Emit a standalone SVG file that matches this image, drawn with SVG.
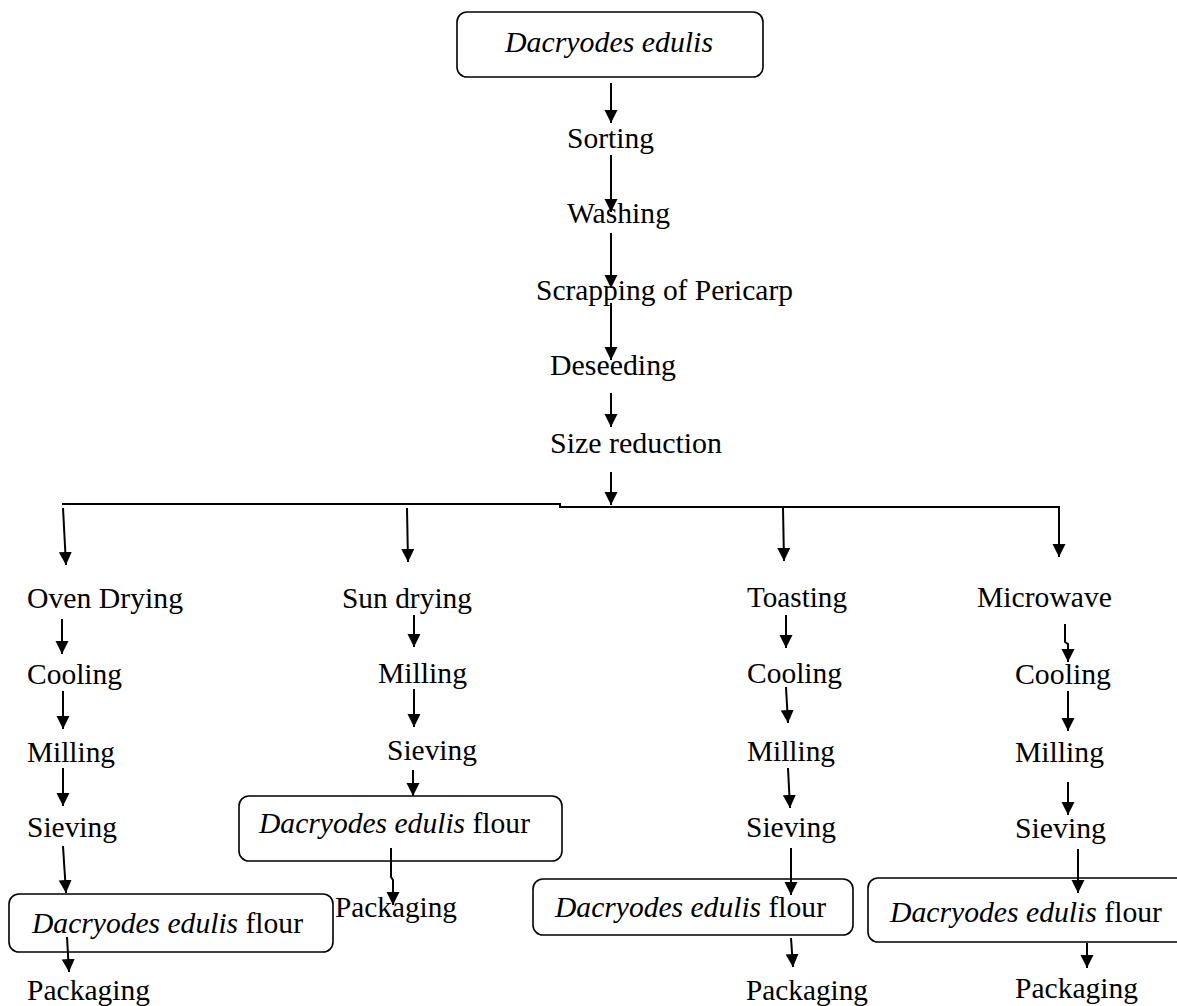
<svg xmlns="http://www.w3.org/2000/svg" width="1177" height="1006" viewBox="0 0 1177 1006">
<style>
.t{font-family:"Liberation Serif","Times New Roman",serif;font-size:29.5px;fill:#000}
.i{font-style:italic}
.box{fill:#fff;stroke:#000;stroke-width:1.6}
.c{fill:none;stroke:#000;stroke-width:2}
</style>
<defs>
<marker id="ah" markerUnits="userSpaceOnUse" markerWidth="14" markerHeight="14" refX="13" refY="6.5" orient="auto">
<path d="M0,0 L13,6.5 L0,13 z" fill="#000"/>
</marker>
</defs>
<rect width="1177" height="1006" fill="#fff"/>
<g id="n-top"><rect class="box" x="457" y="12" width="306" height="65" rx="10"/><text class="t i" x="505" y="52" textLength="208" lengthAdjust="spacingAndGlyphs">Dacryodes edulis</text></g>
<g id="n-sorting"><text class="t" x="567" y="148" textLength="87" lengthAdjust="spacingAndGlyphs">Sorting</text></g>
<g id="n-washing"><text class="t" x="567" y="223" textLength="103" lengthAdjust="spacingAndGlyphs">Washing</text></g>
<g id="n-scrapping"><text class="t" x="536" y="300" textLength="257" lengthAdjust="spacingAndGlyphs">Scrapping of Pericarp</text></g>
<g id="n-deseeding"><text class="t" x="550" y="375" textLength="126" lengthAdjust="spacingAndGlyphs">Deseeding</text></g>
<g id="n-size"><text class="t" x="550" y="453" textLength="172" lengthAdjust="spacingAndGlyphs">Size reduction</text></g>

<g id="n-oven"><text class="t" x="27" y="608" textLength="156" lengthAdjust="spacingAndGlyphs">Oven Drying</text></g>
<g id="n-cool1"><text class="t" x="27" y="684" textLength="95" lengthAdjust="spacingAndGlyphs">Cooling</text></g>
<g id="n-mill1"><text class="t" x="27" y="762" textLength="88" lengthAdjust="spacingAndGlyphs">Milling</text></g>
<g id="n-sieve1"><text class="t" x="27" y="837" textLength="90" lengthAdjust="spacingAndGlyphs">Sieving</text></g>
<g id="n-flour1"><rect class="box" x="9" y="894" width="324" height="58" rx="10"/><text class="t" x="32" y="933" textLength="271" lengthAdjust="spacingAndGlyphs"><tspan class="i">Dacryodes edulis</tspan> flour</text></g>
<g id="n-pack1"><text class="t" x="27" y="1000" textLength="123" lengthAdjust="spacingAndGlyphs">Packaging</text></g>

<g id="n-sun"><text class="t" x="342" y="608" textLength="130" lengthAdjust="spacingAndGlyphs">Sun drying</text></g>
<g id="n-mill2"><text class="t" x="378" y="683" textLength="89" lengthAdjust="spacingAndGlyphs">Milling</text></g>
<g id="n-sieve2"><text class="t" x="387" y="760" textLength="90" lengthAdjust="spacingAndGlyphs">Sieving</text></g>
<g id="n-flour2"><rect class="box" x="239" y="796" width="323" height="65" rx="10"/><text class="t" x="259" y="833" textLength="271" lengthAdjust="spacingAndGlyphs"><tspan class="i">Dacryodes edulis</tspan> flour</text></g>
<g id="n-pack2"><text class="t" x="335" y="917" textLength="122" lengthAdjust="spacingAndGlyphs">Packaging</text></g>

<g id="n-toast"><text class="t" x="747" y="607" textLength="100" lengthAdjust="spacingAndGlyphs">Toasting</text></g>
<g id="n-cool3"><text class="t" x="747" y="683" textLength="95" lengthAdjust="spacingAndGlyphs">Cooling</text></g>
<g id="n-mill3"><text class="t" x="747" y="761" textLength="88" lengthAdjust="spacingAndGlyphs">Milling</text></g>
<g id="n-sieve3"><text class="t" x="746" y="837" textLength="90" lengthAdjust="spacingAndGlyphs">Sieving</text></g>
<g id="n-flour3"><rect class="box" x="533" y="879" width="320" height="56" rx="10"/><text class="t" x="555" y="917" textLength="271" lengthAdjust="spacingAndGlyphs"><tspan class="i">Dacryodes edulis</tspan> flour</text></g>
<g id="n-pack3"><text class="t" x="746" y="1000" textLength="122" lengthAdjust="spacingAndGlyphs">Packaging</text></g>

<g id="n-micro"><text class="t" x="977" y="607" textLength="135" lengthAdjust="spacingAndGlyphs">Microwave</text></g>
<g id="n-cool4"><text class="t" x="1015" y="684" textLength="96" lengthAdjust="spacingAndGlyphs">Cooling</text></g>
<g id="n-mill4"><text class="t" x="1015" y="762" textLength="89" lengthAdjust="spacingAndGlyphs">Milling</text></g>
<g id="n-sieve4"><text class="t" x="1015" y="838" textLength="91" lengthAdjust="spacingAndGlyphs">Sieving</text></g>
<g id="n-flour4"><rect class="box" x="868" y="878" width="330" height="64" rx="10"/><text class="t" x="890" y="922" textLength="272" lengthAdjust="spacingAndGlyphs"><tspan class="i">Dacryodes edulis</tspan> flour</text></g>
<g id="n-pack4"><text class="t" x="1015" y="998" textLength="123" lengthAdjust="spacingAndGlyphs">Packaging</text></g>

<g id="connectors" class="c">
<path class="c" d="M611,83 L611,123" marker-end="url(#ah)"/>
<path class="c" d="M611,155 L611,212" marker-end="url(#ah)"/>
<path class="c" d="M611,233 L611,288" marker-end="url(#ah)"/>
<path class="c" d="M611,303 L611,360" marker-end="url(#ah)"/>
<path class="c" d="M611,393 L611,427" marker-end="url(#ah)"/>
<path class="c" d="M611,472 L611,505" marker-end="url(#ah)"/>
<path class="c" d="M62,504 L560,504 L560,507 L1059,507 L1059,557" marker-end="url(#ah)"/>
<path class="c" d="M63,508 L66,565" marker-end="url(#ah)"/>
<path class="c" d="M407,508 L408,562" marker-end="url(#ah)"/>
<path class="c" d="M783,508 L784,561" marker-end="url(#ah)"/>

<path class="c" d="M62,619 L62,654" marker-end="url(#ah)"/>
<path class="c" d="M63,691 L63,729" marker-end="url(#ah)"/>
<path class="c" d="M63,768 L63,806" marker-end="url(#ah)"/>
<path class="c" d="M63,846 L66,893" marker-end="url(#ah)"/>
<path class="c" d="M67,937 L69,972" marker-end="url(#ah)"/>

<path class="c" d="M414,615 L414,647" marker-end="url(#ah)"/>
<path class="c" d="M414,689 L414,727" marker-end="url(#ah)"/>
<path class="c" d="M413,770 L413,796" marker-end="url(#ah)"/>
<path class="c" d="M391,848 L391,877 L393,880 L393,905" marker-end="url(#ah)"/>

<path class="c" d="M786,615 L786,648" marker-end="url(#ah)"/>
<path class="c" d="M786,687 L788,723" marker-end="url(#ah)"/>
<path class="c" d="M788,768 L790,808" marker-end="url(#ah)"/>
<path class="c" d="M791,848 L791,895" marker-end="url(#ah)"/>
<path class="c" d="M791,938 L793,967" marker-end="url(#ah)"/>

<path class="c" d="M1065,624 L1065,642 L1068,644 L1068,662" marker-end="url(#ah)"/>
<path class="c" d="M1068,691 L1068,731" marker-end="url(#ah)"/>
<path class="c" d="M1068,782 L1068,815" marker-end="url(#ah)"/>
<path class="c" d="M1078,849 L1078,893" marker-end="url(#ah)"/>
<path class="c" d="M1087,943 L1087,968" marker-end="url(#ah)"/>
</g>
</svg>
